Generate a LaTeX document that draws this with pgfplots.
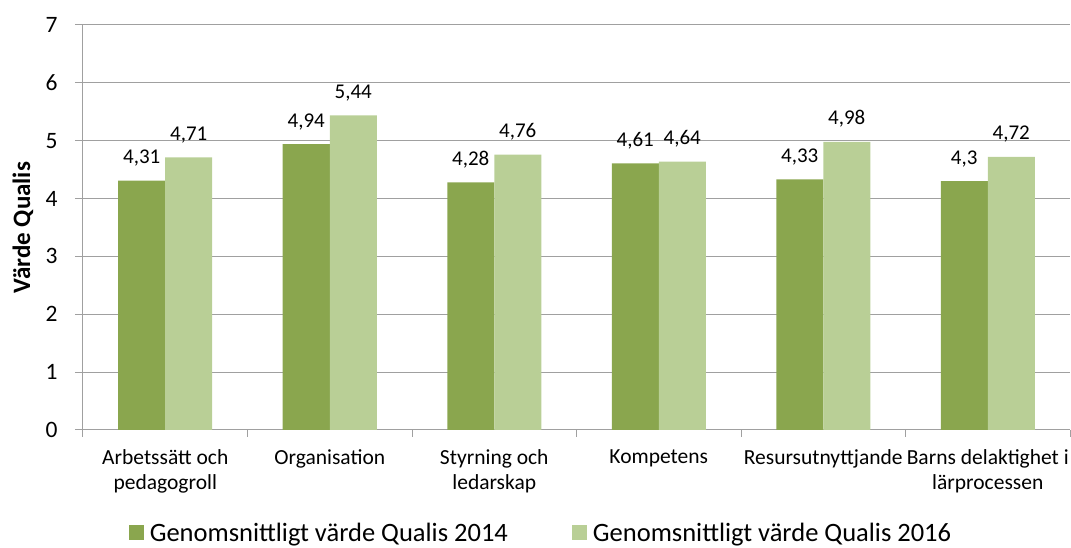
\documentclass[border=0pt]{standalone}
\usepackage{fontspec}
\setmainfont{Carlito}
\usepackage{pgfplots}
\pgfplotsset{compat=1.18}
\definecolor{darkg}{HTML}{8AA64E}
\definecolor{lightg}{HTML}{B9CF96}
\definecolor{gridc}{HTML}{A0A0A0}
\begin{document}
\begin{tikzpicture}
\begin{axis}[
  scale only axis,
  width=987pt, height=405pt,
  xmin=-0.5, xmax=5.5,
  ymin=0, ymax=7,
  ytick={0,1,...,7},
  xtick={0,1,2,3,4,5},
  xticklabels={{Arbetssätt och\\pedagogroll},{Organisation},{Styrning och\\ledarskap},{Kompetens},{Resursutnyttjande},{Barns delaktighet i\\lärprocessen}},
  minor xtick={-0.5,0.5,1.5,2.5,3.5,4.5,5.5},
  major x tick style={draw=none},
  minor x tick style={gridc, line width=1pt},
  y tick style={gridc, line width=1pt},
  tick align=outside,
  major tick length=8pt, minor tick length=7pt,
  ymajorgrids,
  grid style={gridc, line width=1pt},
  axis x line*=bottom, axis y line*=left,
  axis line style={gridc, line width=1pt, -},
  ybar=0pt, bar width=47pt,
  xticklabel style={align=center, font=\fontsize{21.5}{25}\selectfont, yshift=-8pt},
  yticklabel style={font=\fontsize{23.5}{26}\selectfont, xshift=-14pt},
  /pgf/number format/assume math mode=true,
  /pgf/number format/use comma,
  nodes near coords,
  every node near coord/.append style={font=\fontsize{21}{24}\selectfont, anchor=base, inner sep=0pt, yshift=17pt, text=black},
  ylabel={\bfseries Värde Qualis},
  ylabel style={at={(axis description cs:-0.0608,0.5)}, anchor=center, font=\fontsize{25}{28}\selectfont},
  legend style={at={(0.463,0)}, anchor=center, yshift=-103pt, draw=none, legend columns=2, font=\fontsize{26.5}{30}\selectfont,
    nodes={inner sep=0pt},
    /tikz/every odd column/.append style={column sep=6pt},
    /tikz/every even column/.append style={column sep=64pt}},
  legend image code/.code={\fill[#1] (0pt,-7.5pt) rectangle (15pt,7.5pt);},
]
\addplot[fill=darkg, draw=none] coordinates {(0,4.31) (1,4.94) (2,4.28) (3,4.61) (4,4.33) (5,4.3)};
\addplot[fill=lightg, draw=none] coordinates {(0,4.71) (1,5.44) (2,4.76) (3,4.64) (4,4.98) (5,4.72)};
\legend{Genomsnittligt värde Qualis 2014, Genomsnittligt värde Qualis 2016}
\end{axis}
\pgfresetboundingbox
\path (-83pt,-118pt) rectangle (988pt,430pt);
\end{tikzpicture}
\end{document}
